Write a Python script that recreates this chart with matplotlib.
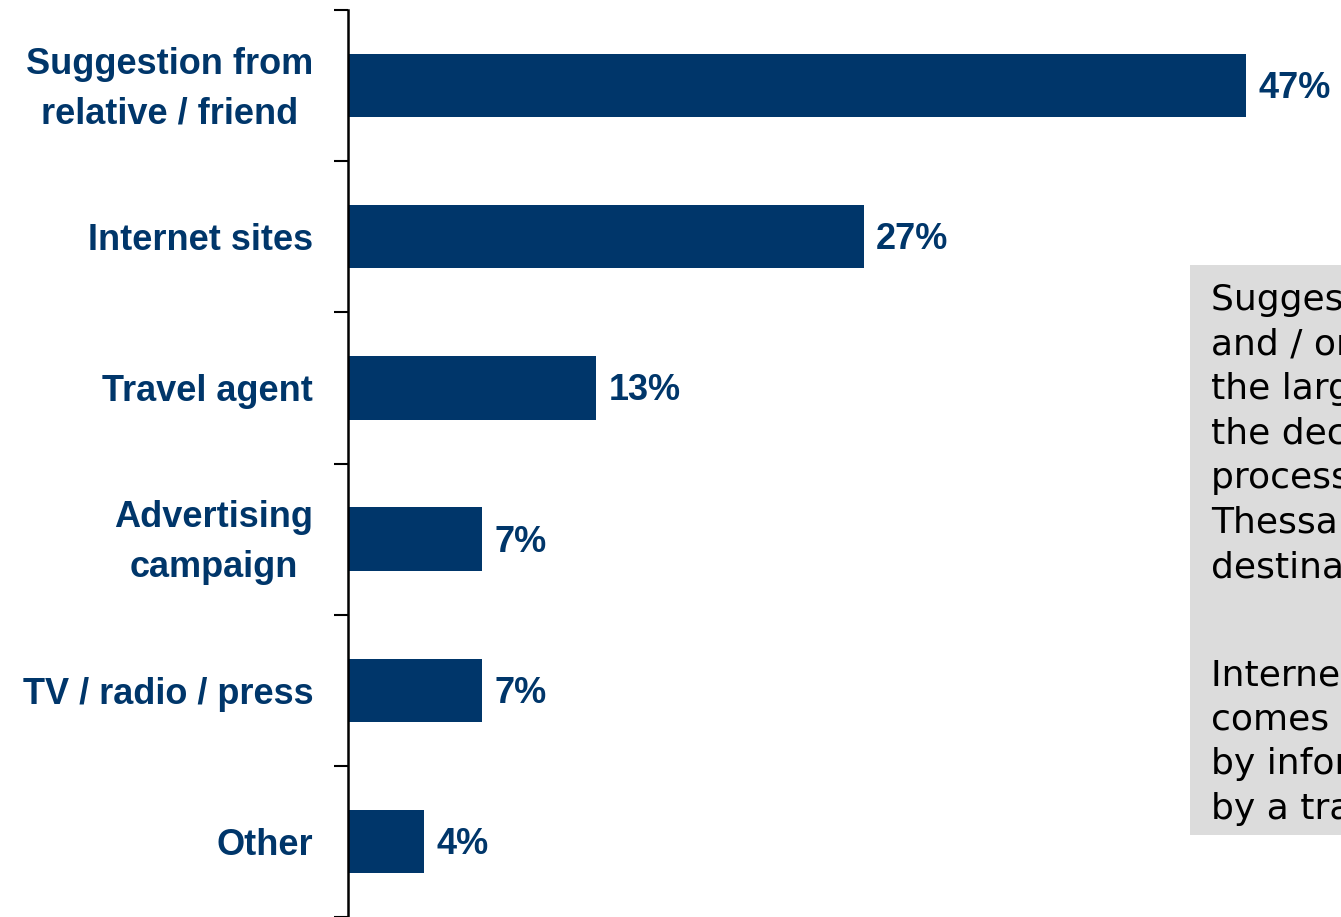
import matplotlib.pyplot as plt
from matplotlib.patches import Rectangle
from matplotlib.ticker import FixedLocator, NullLocator
from matplotlib.transforms import ScaledTranslation

# share of respondents by main source of the trip decision
sources = ['Suggestion from\nrelative / friend', 'Internet sites', 'Travel agent',
           'Advertising\ncampaign', 'TV / radio / press', 'Other']
shares = [47, 27, 13, 7, 7, 4]

note_first = ['Suggestion from friends',
              'and / or relatives has',
              'the largest impact on',
              'the decision making',
              'process for choosing',
              'Thessaloniki as a',
              'destination']
note_second = ['Internet information',
               'comes second, followed',
               'by information provided',
               'by a travel agent']

navy = '#00366A'
label_font = dict(fontsize=26, fontweight='bold', color=navy, family='Liberation Sans')

fig = plt.figure(figsize=(13.41, 9.17), dpi=100)
ax = fig.add_axes([348 / 1341, 0.0, 1 - 348 / 1341, 907 / 917])

pos = list(range(len(sources)))
ax.barh(pos, shares, height=0.42, color=navy, zorder=2)
ax.set_ylim(len(sources) - 0.5, -0.5)
ax.set_xlim(0, 993 / 19.1)

for p, v in zip(pos, shares):
    ax.text(v + 0.65, p + 0.02, f'{v}%', va='center', ha='left', **label_font)

ax.yaxis.set_major_locator(FixedLocator(pos))
ax.yaxis.set_minor_locator(FixedLocator([i - 0.5 for i in range(len(sources) + 1)]))
ax.set_yticklabels(sources, multialignment='center', linespacing=1.55, **label_font)
ax.tick_params(axis='y', which='major', length=0, pad=25)
ax.tick_params(axis='y', which='minor', length=10, width=1.5, color='black')
ax.xaxis.set_major_locator(NullLocator())

# two-line labels sit a little high in their band
lift = ScaledTranslation(0, 0.08, fig.dpi_scale_trans)
for lbl in ax.get_yticklabels():
    if '\n' in lbl.get_text():
        lbl.set_transform(lbl.get_transform() + lift)

for side in ['top', 'right', 'bottom']:
    ax.spines[side].set_visible(False)
ax.spines['left'].set_linewidth(1.8)
ax.spines['left'].set_color('black')

# grey commentary box on the right
box = Rectangle((1190 / 1341, 1 - 835 / 917), 0.2, (835 - 265) / 917,
                transform=fig.transFigure, facecolor='#DCDCDC', edgecolor='none', zorder=3)
fig.patches.append(box)
note_font = dict(ha='left', va='top', fontsize=26, family='DejaVu Sans', color='black',
                 linespacing=1.39, zorder=4)
fig.text(1211 / 1341, 1 - 283 / 917, '\n'.join(note_first), **note_font)
fig.text(1211 / 1341, 1 - 658 / 917, '\n'.join(note_second), **note_font)

fig.savefig('out.png', dpi=100)
